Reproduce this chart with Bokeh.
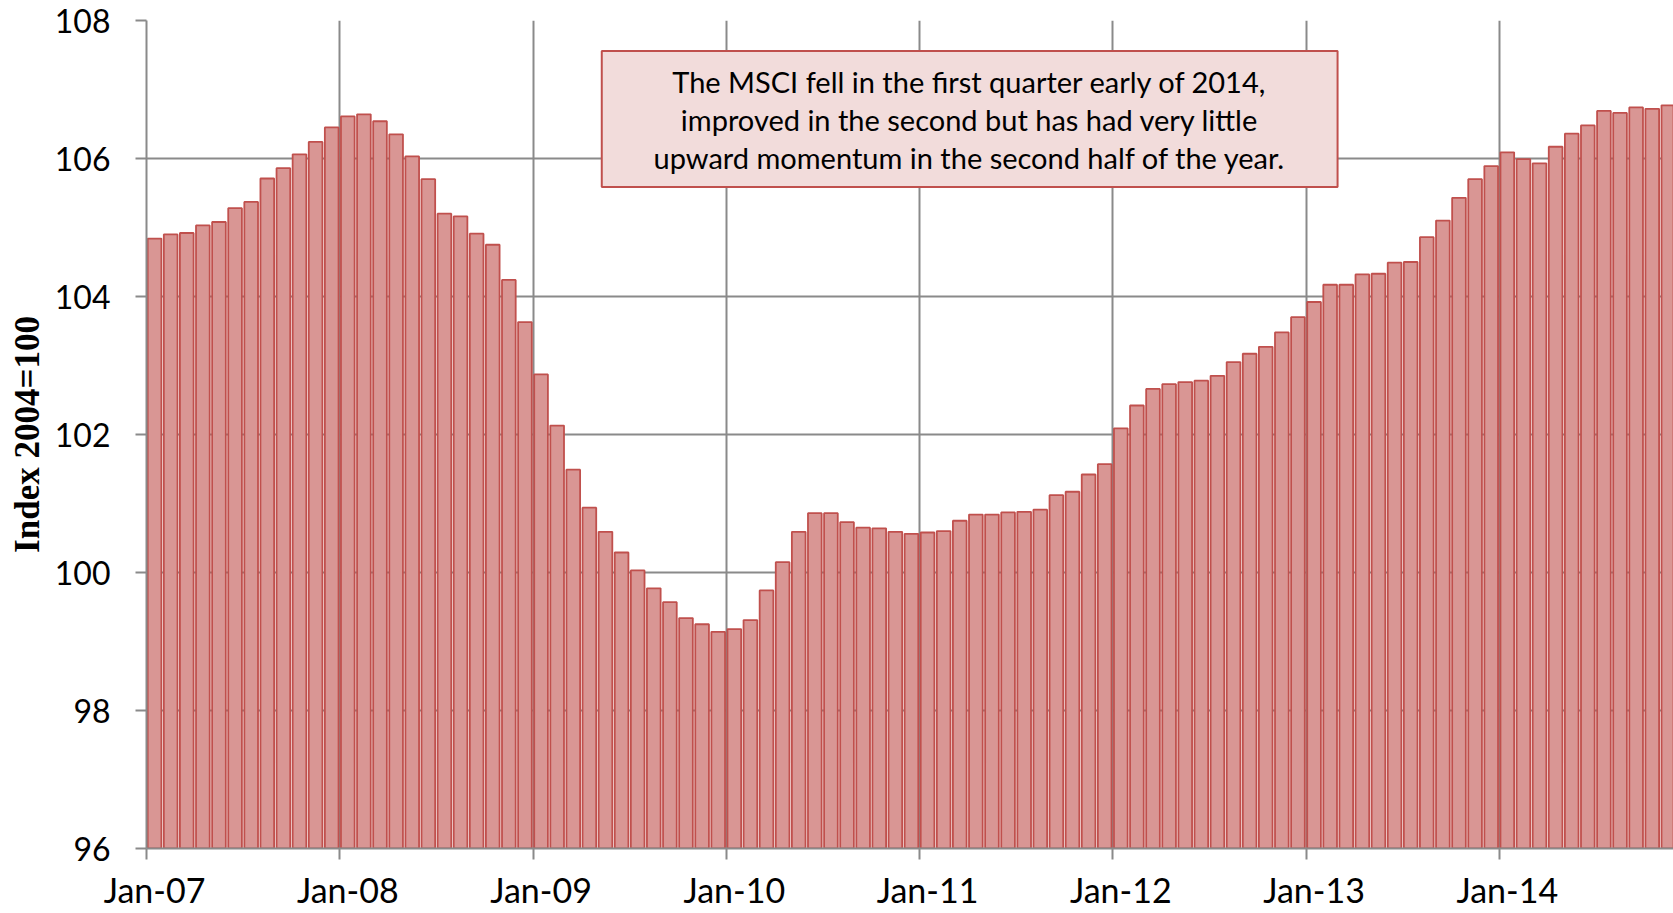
import numpy as np
from bokeh.plotting import figure
from bokeh.models import Range1d, FixedTicker, LinearAxis, BoxAnnotation, Label
from bokeh.embed import file_html
from bokeh.resources import INLINE

# Monthly MSCI index values (2004=100), Jan-07 .. Nov-14
msci = [
    104.84, 104.90, 104.92, 105.03, 105.08, 105.28, 105.37, 105.71, 105.86, 106.06, 106.24, 106.45,
    106.61, 106.64, 106.54, 106.35, 106.03, 105.70, 105.20, 105.16, 104.91, 104.75, 104.24, 103.63,
    102.87, 102.13, 101.49, 100.94, 100.59, 100.29, 100.03, 99.77, 99.57, 99.34, 99.25, 99.14,
    99.18, 99.31, 99.74, 100.15, 100.59, 100.86, 100.86, 100.73, 100.65, 100.64, 100.59, 100.56,
    100.58, 100.60, 100.75, 100.84, 100.84, 100.87, 100.88, 100.91, 101.12, 101.17, 101.42, 101.57,
    102.09, 102.42, 102.66, 102.73, 102.76, 102.78, 102.85, 103.05, 103.17, 103.27, 103.48, 103.70,
    103.92, 104.17, 104.17, 104.32, 104.33, 104.49, 104.50, 104.86, 105.10, 105.43, 105.70, 105.89,
    106.09, 105.99, 105.93, 106.17, 106.36, 106.48, 106.69, 106.66, 106.74, 106.72, 106.77,
]
year_labels = ["Jan-07", "Jan-08", "Jan-09", "Jan-10", "Jan-11", "Jan-12", "Jan-13", "Jan-14"]
y_ticks = [96, 98, 100, 102, 104, 106, 108]
note = ("The MSCI fell in the first quarter early of 2014,\n"
        "improved in the second but has had very little\n"
        "upward momentum in the second half of the year.")

month_idx = np.arange(len(msci))
centers = month_idx + 0.5
jan_ticks = [12 * k for k in range(len(year_labels))]
label_pos = [t + 0.5 for t in jan_ticks]

GRID = "#8a8a8a"
FONT = "Lato"

p = figure(width=1673, height=913, x_range=Range1d(0, 94.82), y_range=Range1d(96, 108),
           output_backend="svg", toolbar_location=None,
           min_border_left=146, min_border_right=0, min_border_top=20, min_border_bottom=65)
p.outline_line_color = None
p.background_fill_color = "white"
p.border_fill_color = "white"

p.vbar(x=centers, top=msci, bottom=96, width=0.85,
       fill_color="#D99694", line_color="#C0504D", line_width=1.8)

# x axis: tick marks at January, labels centred on the January bar
xa = p.xaxis[0]
xa.ticker = FixedTicker(ticks=jan_ticks)
xa.major_label_overrides = {t: "" for t in jan_ticks}
xa.major_label_text_font_size = "0px"
xa.major_label_standoff = 0
xa.major_tick_out = 11
xa.major_tick_in = 0
xa.minor_tick_line_color = None
xa.axis_line_color = GRID
xa.axis_line_width = 2
xa.major_tick_line_color = GRID
xa.major_tick_line_width = 2

xl = LinearAxis(ticker=FixedTicker(ticks=label_pos),
                major_label_overrides={pos: lab for pos, lab in zip(label_pos, year_labels)},
                axis_line_color=None, major_tick_line_color=None, minor_tick_line_color=None,
                major_tick_out=0, major_tick_in=0, major_label_standoff=9,
                major_label_text_font=FONT, major_label_text_font_size="34px",
                major_label_text_color="black")
p.add_layout(xl, "below")

ya = p.yaxis[0]
ya.ticker = FixedTicker(ticks=y_ticks)
ya.major_tick_out = 11
ya.major_tick_in = 0
ya.minor_tick_line_color = None
ya.axis_line_color = GRID
ya.axis_line_width = 2
ya.major_tick_line_color = GRID
ya.major_tick_line_width = 2
ya.major_label_standoff = 25
ya.major_label_text_font = FONT
ya.major_label_text_font_size = "32px"
ya.major_label_text_color = "black"
ya.axis_label = "Index 2004=100"
ya.axis_label_text_font = "Liberation Serif"
ya.axis_label_text_font_style = "bold"
ya.axis_label_text_font_size = "35px"
ya.axis_label_text_color = "black"
ya.axis_label_standoff = 5

p.xgrid.grid_line_color = GRID
p.xgrid.grid_line_width = 2
p.ygrid.grid_line_color = GRID
p.ygrid.grid_line_width = 2

box = BoxAnnotation(left=28.27, right=73.96, top=107.558, bottom=105.586,
                    fill_color="#F2DCDB", fill_alpha=1.0,
                    line_color="#C0504D", line_alpha=1.0, line_width=2)
p.add_layout(box)
lab = Label(x=51.12, y=107.37, text=note, text_align="center", text_baseline="top",
            text_font=FONT, text_font_size="29px", text_color="black", text_line_height=1.09)
p.add_layout(lab)

open("out.html", "w").write(file_html(p, INLINE))
